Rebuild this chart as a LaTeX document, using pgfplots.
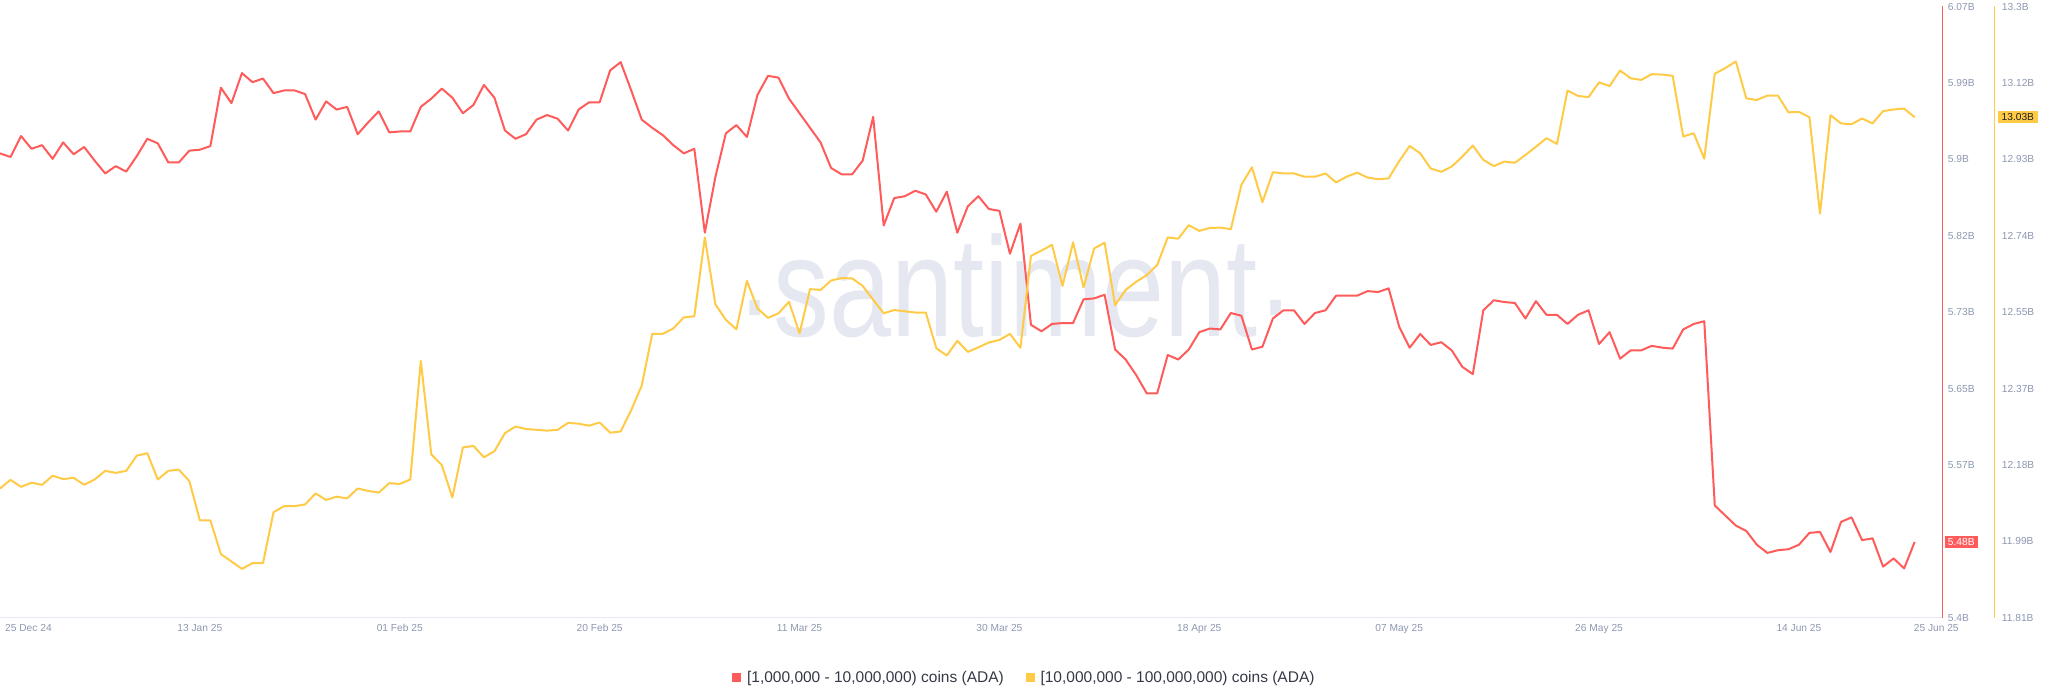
\documentclass[border=0pt]{standalone}
\usepackage{fontspec}
\setmainfont{Liberation Sans}
\usepackage{pgfplots}
\usepackage{pgfplotstable}
\pgfplotsset{compat=1.18}
\definecolor{adared}{HTML}{FF5B5B}
\definecolor{adayellow}{HTML}{FFCB47}
\definecolor{ticktext}{HTML}{8D97B0}
\definecolor{axisgray}{HTML}{E7EAF3}
\definecolor{wmark}{HTML}{E5E8F1}
\definecolor{legtext}{HTML}{353945}

\pgfplotstableread{
day red
0 5.909
1 5.905
2 5.928
3 5.914
4 5.918
5 5.903
6 5.921
7 5.908
8 5.916
9 5.901
10 5.887
11 5.895
12 5.889
13 5.906
14 5.925
15 5.920
16 5.899
17 5.899
18 5.912
19 5.913
20 5.917
21 5.981
22 5.964
23 5.997
24 5.987
25 5.991
26 5.975
27 5.978
28 5.978
29 5.974
30 5.946
31 5.966
32 5.957
33 5.960
34 5.930
35 5.943
36 5.955
37 5.932
38 5.933
39 5.933
40 5.960
41 5.969
42 5.980
43 5.970
44 5.953
45 5.962
46 5.984
47 5.970
48 5.934
49 5.925
50 5.930
51 5.946
52 5.951
53 5.947
54 5.934
55 5.957
56 5.965
57 5.965
58 6.000
59 6.009
60 5.978
61 5.946
62 5.937
63 5.929
64 5.918
65 5.909
66 5.914
67 5.822
68 5.883
69 5.931
70 5.940
71 5.927
72 5.973
73 5.994
74 5.992
75 5.969
76 5.953
77 5.937
78 5.921
79 5.893
80 5.886
81 5.886
82 5.901
83 5.949
84 5.830
85 5.860
86 5.862
87 5.868
88 5.864
89 5.845
90 5.867
91 5.822
92 5.851
93 5.862
94 5.848
95 5.846
96 5.799
97 5.832
98 5.721
99 5.714
100 5.722
101 5.723
102 5.723
103 5.749
104 5.750
105 5.754
106 5.694
107 5.683
108 5.666
109 5.646
110 5.646
111 5.688
112 5.683
113 5.694
114 5.713
115 5.717
116 5.716
117 5.734
118 5.731
119 5.694
120 5.697
121 5.728
122 5.737
123 5.737
124 5.722
125 5.734
126 5.737
127 5.753
128 5.753
129 5.753
130 5.758
131 5.757
132 5.761
133 5.719
134 5.696
135 5.711
136 5.699
137 5.702
138 5.693
139 5.675
140 5.667
141 5.737
142 5.748
143 5.746
144 5.745
145 5.728
146 5.747
147 5.732
148 5.732
149 5.722
150 5.732
151 5.737
152 5.700
153 5.713
154 5.684
155 5.693
156 5.693
157 5.698
158 5.696
159 5.695
160 5.716
161 5.722
162 5.725
163 5.523
164 5.512
165 5.501
166 5.495
167 5.480
168 5.471
169 5.474
170 5.475
171 5.480
172 5.493
173 5.494
174 5.472
175 5.505
176 5.510
177 5.485
178 5.487
179 5.456
180 5.465
181 5.454
182 5.483
}\redtable

\pgfplotstableread{
day yellow
0 12.125
1 12.146
2 12.129
3 12.139
4 12.134
5 12.156
6 12.148
7 12.151
8 12.134
9 12.147
10 12.168
11 12.163
12 12.168
13 12.205
14 12.211
15 12.147
16 12.168
17 12.171
18 12.143
19 12.047
20 12.047
21 11.965
22 11.947
23 11.929
24 11.943
25 11.943
26 12.067
27 12.082
28 12.082
29 12.086
30 12.113
31 12.097
32 12.105
33 12.101
34 12.125
35 12.119
36 12.115
37 12.138
38 12.136
39 12.147
40 12.436
41 12.208
42 12.182
43 12.103
44 12.225
45 12.229
46 12.201
47 12.216
48 12.260
49 12.276
50 12.270
51 12.268
52 12.266
53 12.268
54 12.285
55 12.283
56 12.278
57 12.286
58 12.261
59 12.264
60 12.316
61 12.376
62 12.502
63 12.502
64 12.515
65 12.542
66 12.545
67 12.737
68 12.574
69 12.536
70 12.513
71 12.631
72 12.564
73 12.541
74 12.552
75 12.580
76 12.503
77 12.611
78 12.609
79 12.632
80 12.638
81 12.637
82 12.619
83 12.585
84 12.552
85 12.560
86 12.557
87 12.554
88 12.554
89 12.467
90 12.449
91 12.485
92 12.458
93 12.469
94 12.481
95 12.487
96 12.502
97 12.468
98 12.692
99 12.705
100 12.719
101 12.619
102 12.725
103 12.615
104 12.710
105 12.724
106 12.572
107 12.609
108 12.629
109 12.645
110 12.670
111 12.737
112 12.734
113 12.767
114 12.753
115 12.760
116 12.761
117 12.757
118 12.865
119 12.908
120 12.823
121 12.896
122 12.893
123 12.893
124 12.885
125 12.885
126 12.893
127 12.871
128 12.885
129 12.895
130 12.883
131 12.879
132 12.881
133 12.923
134 12.960
135 12.942
136 12.905
137 12.897
138 12.910
139 12.934
140 12.961
141 12.926
142 12.911
143 12.922
144 12.919
145 12.938
146 12.958
147 12.979
148 12.965
149 13.095
150 13.082
151 13.079
152 13.115
153 13.106
154 13.144
155 13.125
156 13.121
157 13.135
158 13.134
159 13.131
160 12.983
161 12.991
162 12.929
163 13.136
164 13.150
165 13.166
166 13.076
167 13.072
168 13.083
169 13.083
170 13.042
171 13.043
172 13.030
173 12.795
174 13.035
175 13.015
176 13.013
177 13.027
178 13.015
179 13.045
180 13.049
181 13.051
182 13.030
}\yellowtable

\newcommand{\tickfont}{\fontsize{10.2}{12}\selectfont}

\begin{document}
\begin{tikzpicture}
\useasboundingbox (0,0) rectangle (2048pt,693pt);
% watermark
\node[anchor=base west, inner sep=0pt, text=wmark, font=\fontsize{142}{142}\selectfont, xscale=0.786] at (736pt,356pt) {\raisebox{-10pt}{·}santiment\raisebox{-10pt}{·}};

\begin{axis}[
  at={(0pt,75.3pt)}, anchor=south west,
  scale only axis, width=1942pt, height=611.2pt,
  xmin=0, xmax=184.6, ymin=5.4, ymax=6.07,
  axis x line*=bottom, axis y line*=right,
  axis line style={-},
  x axis line style={draw=axisgray, line width=1pt},
  y axis line style={draw=adared, line width=1pt},
  tick style={draw=none},
  xtick={19,38,57,76,95,114,133,152,171},
  xticklabels={13 Jan 25,01 Feb 25,20 Feb 25,11 Mar 25,30 Mar 25,18 Apr 25,07 May 25,26 May 25,14 Jun 25},
  extra x ticks={0,182},
  extra x tick labels={\hspace*{5pt}25 Dec 24,\hspace*{-1pt}25 Jun 25},
  extra x tick style={xticklabel style={anchor=base west}},
  xticklabel style={anchor=base, yshift=-14pt, inner sep=0pt, font=\tickfont, text=ticktext},
  ytick={5.4,5.5675,5.65125,5.735,5.81875,5.9025,5.98625,6.07},
  yticklabels={5.4B,5.57B,5.65B,5.73B,5.82B,5.9B,5.99B,6.07B},
  yticklabel pos=right,
  yticklabel style={anchor=west, xshift=5.7pt, inner sep=0pt, font=\tickfont, text=ticktext},
  clip mode=individual,
]
\addplot[color=adared, line width=2pt, line join=round] table[x=day, y=red] {\redtable};
\node[fill=adared, text=white, anchor=west, inner xsep=3.4pt, inner ysep=2.5pt, text height=7.3pt, text depth=0pt, font=\tickfont] at ([xshift=2.3pt]axis cs:184.6,5.483) {5.48B};
\end{axis}

\begin{axis}[
  at={(0pt,75.3pt)}, anchor=south west,
  scale only axis, width=1942pt, height=611.2pt,
  xmin=0, xmax=184.6, ymin=11.81, ymax=13.3,
  hide x axis,
  axis y line*=right,
  axis line style={draw=none},
  tick style={draw=none},
  ytick={11.81,11.99625,12.1825,12.36875,12.555,12.74125,12.9275,13.11375,13.3},
  yticklabels={11.81B,11.99B,12.18B,12.37B,12.55B,12.74B,12.93B,13.12B,13.3B},
  yticklabel pos=right,
  yticklabel style={anchor=west, xshift=59.7pt, inner sep=0pt, font=\tickfont, text=ticktext},
  clip mode=individual,
  legend columns=2,
  legend style={draw=none, fill=none, at={(0.52703,-0.0978)}, anchor=center, inner sep=0pt,
    font=\fontsize{15.5}{18}\selectfont, text=legtext,
    nodes={inner sep=0pt},
    /tikz/every odd column/.append style={column sep=5.7pt},
    /tikz/every even column/.append style={column sep=22pt}},
  legend cell align=left,
  legend image code/.code={\fill[#1, draw=none] (0pt,-4.5pt) rectangle (9pt,4.5pt);},
]
\addlegendimage{color=adared}
\addlegendentry{{[1,000,000 - 10,000,000) coins (ADA)}}
\addplot[color=adayellow, line width=2pt, line join=round] table[x=day, y=yellow] {\yellowtable};
\addlegendentry{{[10,000,000 - 100,000,000) coins (ADA)}}
\draw[adayellow, line width=1pt] ([xshift=52.7pt]rel axis cs:1,0) -- ([xshift=52.7pt]rel axis cs:1,1);
\node[fill=adayellow, text=black!88, anchor=west, inner xsep=3.8pt, inner ysep=2.5pt, text height=7.3pt, text depth=0pt, font=\tickfont] at ([xshift=55.7pt]axis cs:184.6,13.03) {13.03B};
\end{axis}
\end{tikzpicture}
\end{document}
